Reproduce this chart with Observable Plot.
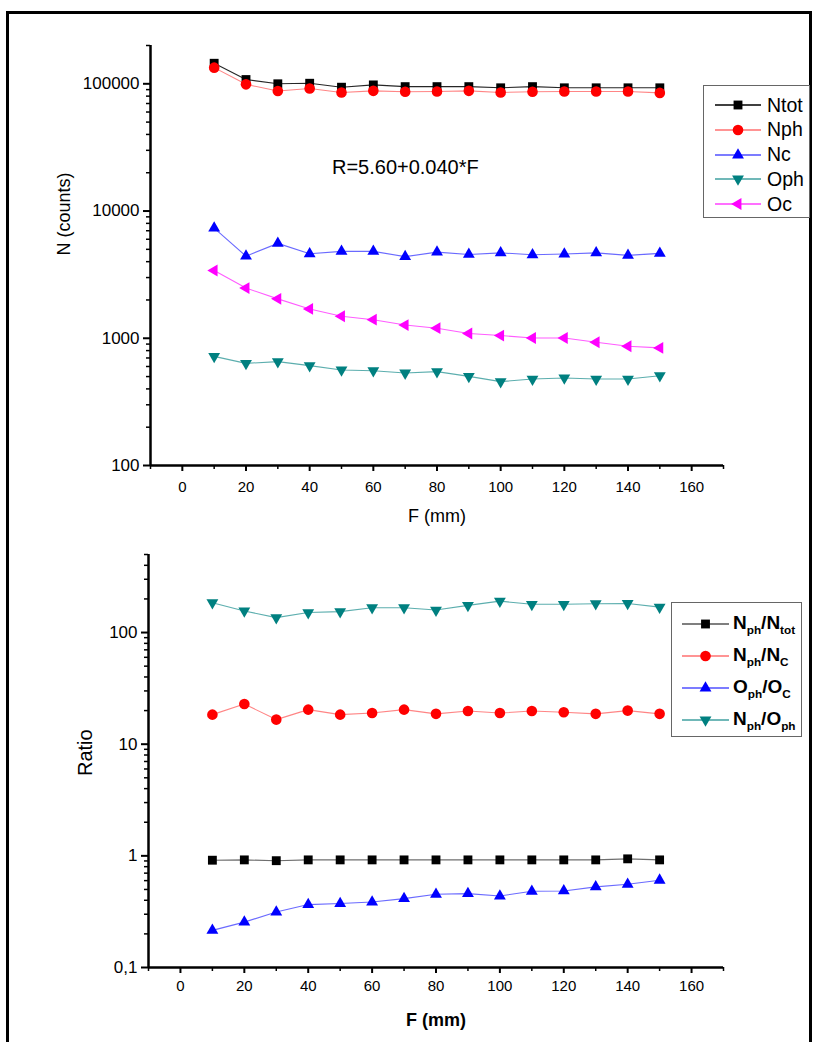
<!DOCTYPE html>
<html>
<head>
<meta charset="utf-8">
<script src="https://cdn.jsdelivr.net/npm/d3@7"></script>
<script src="https://cdn.jsdelivr.net/npm/@observablehq/plot@0.6"></script>
<style>
  body { margin: 0; background: #fff; font-family: "Liberation Sans", Arial, sans-serif; }
  #page { position: relative; width: 817px; height: 1042px; overflow: hidden; background: #fff; }
  #frame { position: absolute; left: 6px; top: 11px; width: 806px; height: 1045px; border: 3px solid #000; box-sizing: border-box; }
  .plotbox { position: absolute; left: 0; }
  .legend { position: absolute; border: 1.5px solid #666; background: #fff; box-sizing: border-box; }
  .legend .row { position: absolute; left: 0; display: flex; align-items: center; white-space: nowrap; }
  .legend svg { display: block; }
  .legend .lbl { color: #000; }
  .legend .lbl sub { font-size: 62%; vertical-align: -0.45em; }
</style>
</head>
<body>
<div id="page">
  <div id="frame"></div>
  <div id="top" class="plotbox" style="top:0"></div>
  <div id="bottom" class="plotbox" style="top:540px"></div>
</div>
<script>
// ---------------- data ----------------
const F = [10, 20, 30, 40, 50, 60, 70, 80, 90, 100, 110, 120, 130, 140, 150];

// top panel: counts
const Ntot = [145000, 108000, 100000, 101000, 94000, 98000, 95000, 95000, 95000, 93000, 95000, 93000, 93000, 93000, 93000];
const Nph  = [134000, 99000, 87700, 91800, 85400, 88000, 86700, 87000, 88000, 85500, 86700, 87000, 87000, 87000, 84800];
const Nc   = [7350, 4420, 5570, 4610, 4820, 4820, 4380, 4750, 4560, 4690, 4530, 4590, 4690, 4480, 4650];
const Oph  = [721, 635, 655, 610, 563, 556, 533, 547, 502, 456, 478, 487, 478, 478, 508];
const Oc   = [3410, 2480, 2040, 1700, 1490, 1400, 1270, 1200, 1090, 1050, 1005, 1005, 930, 865, 840];

// bottom panel: ratios
const NphNtot = [0.914, 0.92, 0.905, 0.92, 0.92, 0.92, 0.92, 0.92, 0.92, 0.92, 0.92, 0.92, 0.92, 0.94, 0.92];
const NphNc   = [18.4, 22.9, 16.6, 20.4, 18.4, 19.0, 20.4, 18.7, 19.8, 19.0, 19.8, 19.3, 18.7, 20.0, 18.7];
const OphOc   = [0.215, 0.255, 0.314, 0.366, 0.374, 0.386, 0.414, 0.453, 0.459, 0.437, 0.482, 0.485, 0.527, 0.557, 0.605];
const NphOph  = [185, 156, 136, 151, 154, 167, 167, 159, 175, 191, 179, 179, 181, 182, 169];

// axes
const xDomain = [-10, 170];
const xMajor = [0, 20, 40, 60, 80, 100, 120, 140, 160];
const xMinor = [-10, 10, 30, 50, 70, 90, 110, 130, 150, 170];
const yTopDomain = [100, 200000];
const yTopMajor = [100, 1000, 10000, 100000];
const yBotDomain = [0.1, 500];
const yBotMajor = [0.1, 1, 10, 100];
const yBotLabels = ["0,1", "1", "10", "100"];

const topTexts = { xLabel: "F (mm)", yLabel: "N (counts)", note: "R=5.60+0.040*F" };
const notePos = { F: 47, N: 22000 };
const botTexts = { xLabel: "F (mm)", yLabel: "Ratio" };

// ---------------- styles ----------------
const sqrt3 = Math.sqrt(3);
const triDown = { draw(ctx, size) { const y = -Math.sqrt(size / (sqrt3 * 3)); ctx.moveTo(0, -y * 2); ctx.lineTo(-sqrt3 * y, y); ctx.lineTo(sqrt3 * y, y); ctx.closePath(); } };
const triLeft = { draw(ctx, size) { const y = -Math.sqrt(size / (sqrt3 * 3)); ctx.moveTo(y * 2, 0); ctx.lineTo(-y, -sqrt3 * y); ctx.lineTo(-y, sqrt3 * y); ctx.closePath(); } };
const symSquare = d3.symbolSquare, symCircle = d3.symbolCircle, symUp = d3.symbolTriangle;

const topSeries = [
  { key: "Ntot", values: Ntot, fill: "#000000", line: "#000000", sym: symSquare, r: 5, label: "Ntot" },
  { key: "Nph",  values: Nph,  fill: "#ff0000", line: "#ff7070", sym: symCircle, r: 5.3, label: "Nph" },
  { key: "Nc",   values: Nc,   fill: "#0000ff", line: "#5050ff", sym: symUp,     r: 4.4, label: "Nc" },
  { key: "Oph",  values: Oph,  fill: "#008080", line: "#40a0a0", sym: triDown,   r: 4.4, label: "Oph" },
  { key: "Oc",   values: Oc,   fill: "#ff00ff", line: "#ff40ff", sym: triLeft,   r: 4.4, label: "Oc" }
];
const botSeries = [
  { key: "NphNtot", values: NphNtot, fill: "#000000", line: "#555555", sym: symSquare, r: 5, label: "N<sub>ph</sub>/N<sub>tot</sub>" },
  { key: "NphNc",   values: NphNc,   fill: "#ff0000", line: "#ff7070", sym: symCircle, r: 5.3, label: "N<sub>ph</sub>/N<sub>C</sub>" },
  { key: "OphOc",   values: OphOc,   fill: "#0000ff", line: "#5050ff", sym: symUp,     r: 4.4, label: "O<sub>ph</sub>/O<sub>C</sub>" },
  { key: "NphOph",  values: NphOph,  fill: "#008080", line: "#40a0a0", sym: triDown,   r: 4.4, label: "N<sub>ph</sub>/O<sub>ph</sub>" }
];

function minorLogTicks(domain) {
  const out = [];
  for (let e = Math.floor(Math.log10(domain[0])); e <= Math.ceil(Math.log10(domain[1])); e++) {
    for (let m = 2; m <= 9; m++) {
      const v = m * Math.pow(10, e);
      if (v >= domain[0] && v <= domain[1]) out.push(v);
    }
  }
  return out;
}

function seriesMarks(series) {
  const marks = [];
  for (const s of series) {
    const rows = F.map((f, i) => ({ F: f, v: s.values[i] }));
    marks.push(Plot.line(rows, { x: "F", y: "v", stroke: s.line, strokeWidth: 1.1, strokeOpacity: 0.85 }));
    marks.push(Plot.dot(rows, { x: "F", y: "v", symbol: s.sym, fill: s.fill, stroke: "none", r: s.r }));
  }
  return marks;
}

function axesMarks(yDomain, yMajor, yFmt, xPad) {
  return [
    Plot.axisX({ ticks: xMajor, tickSize: 6, tickPadding: xPad, label: null, fontSize: 15, tickFormat: d3.format("d"), strokeWidth: 2 }),
    Plot.axisX({ ticks: xMinor, tickSize: 4, tickFormat: () => "", label: null, strokeWidth: 1.5 }),
    Plot.axisY({ ticks: yMajor, tickSize: 7, tickPadding: 4, label: null, fontSize: 17, tickFormat: yFmt, strokeWidth: 2 }),
    Plot.axisY({ ticks: minorLogTicks(yDomain), tickSize: 4, tickFormat: () => "", label: null, strokeWidth: 1.5 }),
    Plot.ruleX([xDomain[0]], { stroke: "#000", strokeWidth: 2.5 }),
    Plot.ruleY([yDomain[0]], { stroke: "#000", strokeWidth: 2.5 })
  ];
}

// ---------------- top plot ----------------
const topPlot = Plot.plot({
  width: 817, height: 540,
  marginLeft: 150, marginRight: 94, marginTop: 45, marginBottom: 75,
  x: { domain: xDomain },
  y: { type: "log", domain: yTopDomain },
  style: { fontFamily: "'Liberation Sans', Arial, sans-serif", color: "#000", background: "transparent", overflow: "visible" },
  marks: [
    ...axesMarks(yTopDomain, yTopMajor, d3.format("d"), 10),
    ...seriesMarks(topSeries),
    Plot.text([topTexts.note], { x: () => notePos.F, y: () => notePos.N, text: d => d, textAnchor: "start", fontSize: 20, fill: "#000" }),
    Plot.text([topTexts.xLabel], { frameAnchor: "bottom", dy: 56, text: d => d, fontSize: 18, fill: "#000" }),
    Plot.text([topTexts.yLabel], { frameAnchor: "left", dx: -86, rotate: -90, text: d => d, fontSize: 18, fill: "#000" })
  ]
});
document.getElementById("top").appendChild(topPlot);

// ---------------- bottom plot ----------------
const botFmt = v => yBotLabels[yBotMajor.indexOf(v)] ?? "";
const botPlot = Plot.plot({
  width: 817, height: 502,
  marginLeft: 148, marginRight: 94, marginTop: 14, marginBottom: 75,
  x: { domain: xDomain },
  y: { type: "log", domain: yBotDomain },
  style: { fontFamily: "'Liberation Sans', Arial, sans-serif", color: "#000", background: "transparent", overflow: "visible" },
  marks: [
    ...axesMarks(yBotDomain, yBotMajor, botFmt, 7),
    ...seriesMarks(botSeries),
    Plot.text([botTexts.xLabel], { frameAnchor: "bottom", dy: 58, text: d => d, fontSize: 18, fontWeight: "bold", fill: "#000" }),
    Plot.text([botTexts.yLabel], { frameAnchor: "left", dx: -63, dy: 15, rotate: -90, text: d => d, fontSize: 20, fill: "#000" })
  ]
});
document.getElementById("bottom").appendChild(botPlot);

// ---------------- legends ----------------
function legend(series, box, opt) {
  const div = document.createElement("div");
  div.className = "legend";
  Object.assign(div.style, { left: box.left + "px", top: box.top + "px", width: box.width + "px", height: box.height + "px" });
  series.forEach((s, i) => {
    const row = document.createElement("div");
    row.className = "row";
    row.style.top = (opt.firstRow + i * opt.rowStep - opt.rowH / 2) + "px";
    row.style.height = opt.rowH + "px";
    row.style.left = opt.padLeft + "px";
    const w = opt.lineW, h = opt.rowH;
    const path = d3.symbol(s.sym, s.r * s.r * Math.PI)();
    row.innerHTML =
      `<svg width="${w}" height="${h}"><line x1="0" x2="${w}" y1="${h / 2}" y2="${h / 2}" stroke="${s.line}" stroke-width="1.3"/>` +
      `<path d="${path}" transform="translate(${w / 2},${h / 2})" fill="${s.fill}"/></svg>` +
      `<span class="lbl" style="margin-left:${opt.gap}px;font-size:${opt.fontSize}px;font-weight:${opt.weight}">${s.label}</span>`;
    div.appendChild(row);
  });
  document.getElementById("page").appendChild(div);
}
legend(topSeries, { left: 703, top: 85, width: 107, height: 133 },
  { firstRow: 19, rowStep: 24.8, rowH: 24, padLeft: 11, lineW: 46, gap: 6, fontSize: 19.5, weight: "normal" });
legend(botSeries, { left: 671, top: 602, width: 131, height: 135 },
  { firstRow: 21, rowStep: 32, rowH: 30, padLeft: 10, lineW: 47, gap: 4, fontSize: 19, weight: "bold" });
</script>
</body>
</html>
